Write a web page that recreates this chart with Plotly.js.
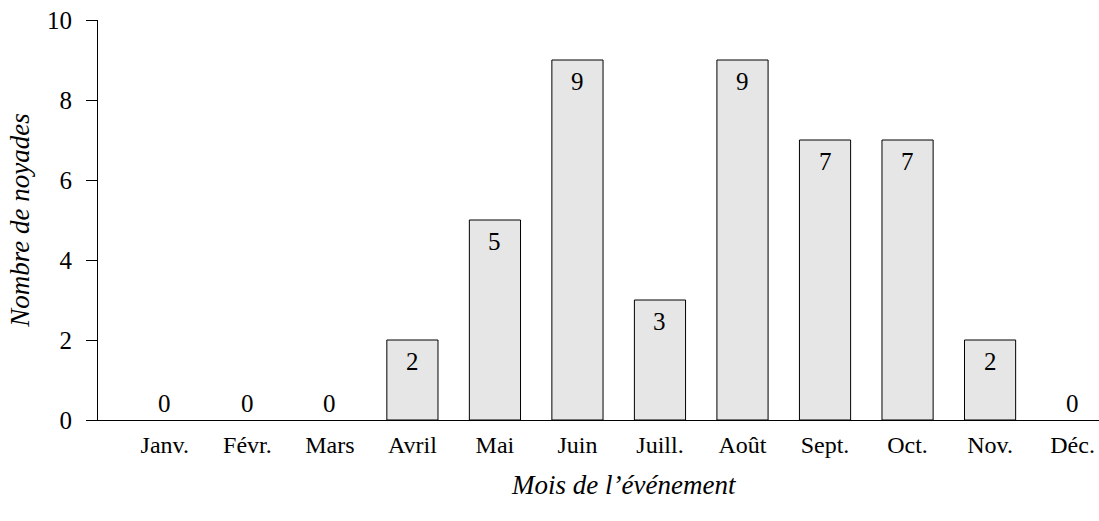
<!DOCTYPE html>
<html>
<head>
<meta charset="utf-8">
<script src="https://cdn.plot.ly/plotly-3.0.1.min.js"></script>
<style>html,body{margin:0;padding:0;background:#fff;}#chart{width:1099px;height:521px;}</style>
</head>
<body>
<div id="chart"></div>
<script>
const months = ["Janv.", "Févr.", "Mars", "Avril", "Mai", "Juin", "Juill.", "Août", "Sept.", "Oct.", "Nov.", "Déc."];
const drownings = [0, 0, 0, 2, 5, 9, 3, 9, 7, 7, 2, 0];
const yTicks = [0, 2, 4, 6, 8, 10];
const xTitle = "Mois de l’événement";
const yTitle = "Nombre de noyades";

const FONT = "'Liberation Serif', 'Times New Roman', serif";

const trace = {
  type: "bar",
  x: months,
  y: drownings,
  width: 0.62,
  marker: {color: "#e6e6e6", line: {color: "#000", width: drownings.map(v => v > 0 ? 1 : 0)}},
  cliponaxis: false,
  hoverinfo: "skip"
};

const valueLabels = months.map((m, i) => ({
  x: m, y: drownings[i], xref: "x", yref: "y",
  text: String(drownings[i]), showarrow: false,
  yanchor: drownings[i] > 0 ? "top" : "bottom",
  yshift: drownings[i] > 0 ? -6 : 1,
  font: {family: FONT, size: 25, color: "#000"}
}));

const layout = {
  width: 1099, height: 521,
  margin: {l: 98, r: 0, t: 20, b: 101},
  paper_bgcolor: "#fff", plot_bgcolor: "#fff",
  font: {family: FONT, size: 25, color: "#000"},
  showlegend: false,
  xaxis: {
    type: "category",
    range: [-0.81, 11.32],
    showline: true, linecolor: "#000", linewidth: 1,
    showgrid: false, zeroline: false,
    ticks: "", ticklabelstandoff: 3,
    tickfont: {family: FONT, size: 24, color: "#000"}
  },
  yaxis: {
    range: [0, 10],
    tickvals: yTicks,
    ticktext: yTicks.map(String),
    showline: true, linecolor: "#000", linewidth: 1,
    showgrid: false, zeroline: false,
    ticks: "outside", ticklen: 11, tickcolor: "#000", tickwidth: 1,
    ticklabelstandoff: 9,
    tickfont: {family: FONT, size: 25, color: "#000"},
    title: {text: yTitle, font: {family: FONT, size: 27, color: "#000", style: "italic"}, standoff: 9}
  },
  annotations: valueLabels.concat([{
    text: xTitle, xref: "paper", yref: "paper",
    x: (624 - 98) / 1001, y: 0, yshift: -65,
    xanchor: "center", yanchor: "middle", showarrow: false,
    font: {family: FONT, size: 27, color: "#000", style: "italic"}
  }])
};

Plotly.newPlot("chart", [trace], layout, {staticPlot: true, displayModeBar: false});
</script>
</body>
</html>
